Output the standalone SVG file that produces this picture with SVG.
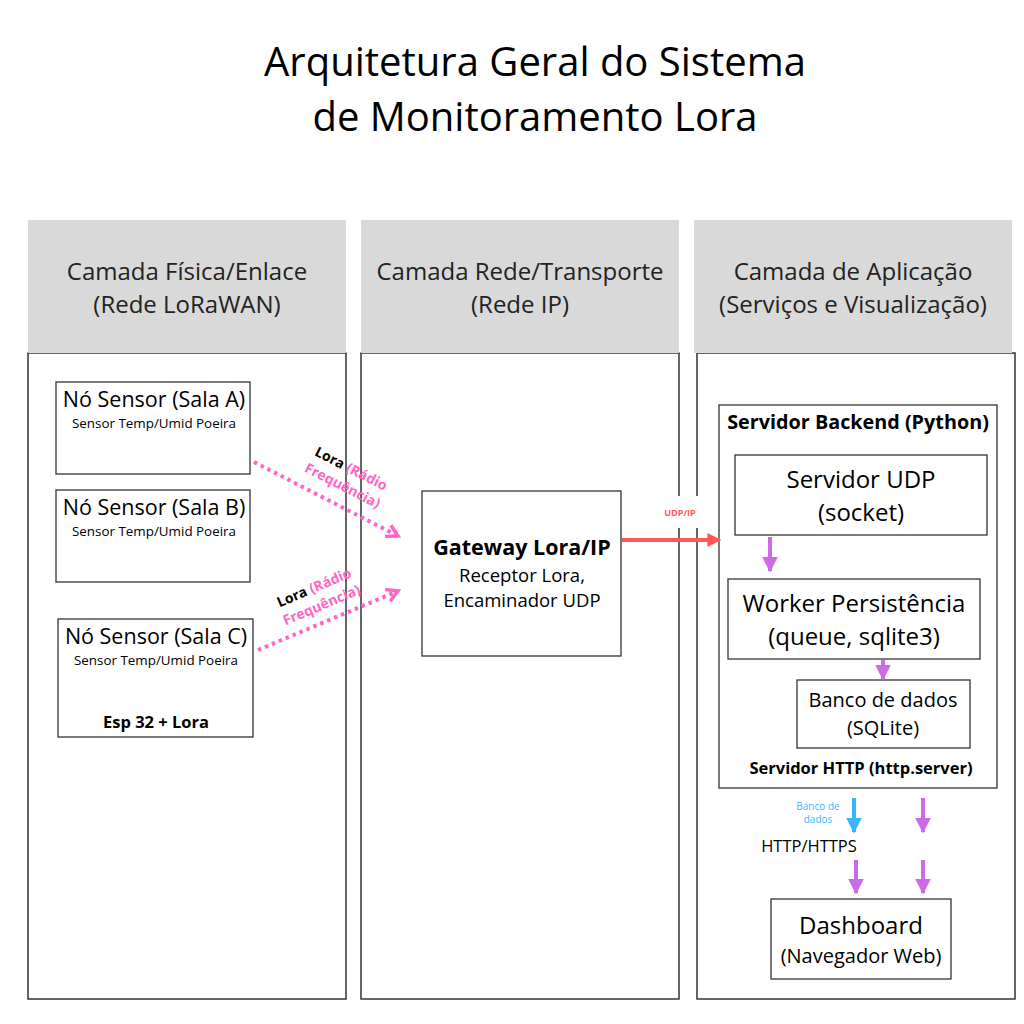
<svg xmlns="http://www.w3.org/2000/svg" width="1024" height="1024" viewBox="0 0 1024 1024">
<defs>
<style>
text{font-family:"Open Sans","Liberation Sans",sans-serif;}
.hdr{fill:#d9d9d9;}
.col{fill:#fff;stroke:#333;stroke-width:1.5;}
.box{fill:#fff;stroke:#333;stroke-width:1.3;}
.mid{text-anchor:middle;}
.b{font-weight:bold;}
.dk{fill:#222;}
.pink{fill:#ff66c4;}
.red{fill:#ff5757;}
.bl{fill:#38b6ff;}
.dot{fill:none;stroke:#ff66c4;stroke-width:4;stroke-dasharray:3.5,4;}
.purp{stroke:#cb6ce6;stroke-width:4;fill:none;}
.blue{stroke:#38b6ff;stroke-width:4;fill:none;}
</style>
<marker id="chev" viewBox="0 0 10 10" refX="8" refY="5" markerWidth="4" markerHeight="4" orient="auto" markerUnits="strokeWidth">
<path d="M1,1 L8,5 L1,9" fill="none" stroke="#ff66c4" stroke-width="2.2"/>
</marker>
<marker id="redh" viewBox="0 0 10 10" refX="9" refY="5" markerWidth="3.5" markerHeight="4" orient="auto" markerUnits="strokeWidth">
<path d="M0,0 L10,5 L0,10 Z" fill="#ff5757"/>
</marker>
<marker id="ph" viewBox="0 0 10 10" refX="9" refY="5" markerWidth="4" markerHeight="4" orient="auto" markerUnits="strokeWidth">
<path d="M0,0 L10,5 L0,10 Z" fill="#cb6ce6"/>
</marker>
<marker id="bh" viewBox="0 0 10 10" refX="9" refY="5" markerWidth="4" markerHeight="4" orient="auto" markerUnits="strokeWidth">
<path d="M0,0 L10,5 L0,10 Z" fill="#38b6ff"/>
</marker>
</defs>
<rect width="1024" height="1024" fill="#fff"/>
<g id="title">
<text class="mid" x="535" y="76" font-size="40">Arquitetura Geral do Sistema</text>
<text class="mid" x="535" y="131" font-size="40">de Monitoramento Lora</text>
</g>
<g id="col1">
<rect class="col" x="28" y="353" width="318" height="646"/>
<rect class="hdr" x="28" y="220" width="318" height="133"/>
<text class="mid dk" x="187" y="280" font-size="24">Camada Física/Enlace</text>
<text class="mid dk" x="187" y="313" font-size="24">(Rede LoRaWAN)</text>
</g>
<g id="col2">
<rect class="col" x="361" y="353" width="318" height="646"/>
<rect class="hdr" x="361" y="220" width="318" height="133"/>
<text class="mid dk" x="520" y="280" font-size="24">Camada Rede/Transporte</text>
<text class="mid dk" x="520" y="313" font-size="24">(Rede IP)</text>
</g>
<g id="col3">
<rect class="col" x="697" y="353" width="318" height="646"/>
<rect class="hdr" x="694" y="220" width="318" height="133"/>
<text class="mid dk" x="853" y="280" font-size="24">Camada de Aplicação</text>
<text class="mid dk" x="853" y="313" font-size="24">(Serviços e Visualização)</text>
</g>
<g id="sensorA">
<rect class="box" x="56" y="382" width="194" height="92"/>
<text class="mid" x="154" y="407" font-size="21.5">Nó Sensor (Sala A)</text>
<text class="mid" x="154" y="428" font-size="13.4">Sensor Temp/Umid Poeira</text>
</g>
<g id="sensorB">
<rect class="box" x="56" y="490" width="194" height="92"/>
<text class="mid" x="154" y="515" font-size="21.5">Nó Sensor (Sala B)</text>
<text class="mid" x="154" y="536" font-size="13.4">Sensor Temp/Umid Poeira</text>
</g>
<g id="sensorC">
<rect class="box" x="58" y="619" width="195" height="118"/>
<text class="mid" x="156" y="644" font-size="21.5">Nó Sensor (Sala C)</text>
<text class="mid" x="156" y="665" font-size="13.4">Sensor Temp/Umid Poeira</text>
<text class="mid b" x="156" y="728" font-size="16.5">Esp 32 + Lora</text>
</g>
<g id="gateway">
<rect class="box" x="422" y="491" width="199" height="165"/>
<text class="mid b" x="522" y="555" font-size="21.5">Gateway Lora/IP</text>
<text class="mid" x="522" y="582" font-size="18.5">Receptor Lora,</text>
<text class="mid" x="522" y="607" font-size="18.5">Encaminador UDP</text>
</g>
<g id="backend">
<rect class="box" x="719" y="405" width="278" height="383"/>
<text class="mid b" x="858" y="429" font-size="19.8">Servidor Backend (Python)</text>
<text class="mid b" x="861" y="774" font-size="16.5">Servidor HTTP (http.server)</text>
</g>
<g id="udp">
<rect class="box" x="735" y="455" width="252" height="80"/>
<text class="mid" x="861" y="488" font-size="24">Servidor UDP</text>
<text class="mid" x="861" y="521" font-size="24">(socket)</text>
</g>
<g id="worker">
<rect class="box" x="728" y="579" width="252" height="80"/>
<text class="mid" x="854" y="612" font-size="24">Worker Persistência</text>
<text class="mid" x="854" y="645" font-size="24">(queue, sqlite3)</text>
</g>
<g id="db">
<rect class="box" x="797" y="680" width="173" height="68"/>
<text class="mid" x="883" y="707" font-size="20">Banco de dados</text>
<text class="mid" x="883" y="735" font-size="20">(SQLite)</text>
</g>
<g id="dashboard">
<rect class="box" x="771" y="899" width="180" height="80"/>
<text class="mid" x="861" y="934" font-size="24">Dashboard</text>
<text class="mid" x="861" y="963" font-size="20">(Navegador Web)</text>
</g>
<g id="connectors">
<line class="dot" x1="254" y1="462" x2="398" y2="536" marker-end="url(#chev)"/>
<line class="dot" x1="258" y1="650" x2="398" y2="591" marker-end="url(#chev)"/>
<g transform="translate(349,473) rotate(27)">
<text class="mid b" x="0" y="0" font-size="14"><tspan>Lora </tspan><tspan class="pink">(Rádio</tspan></text>
<text class="mid b pink" x="0" y="19" font-size="14">Frequência)</text>
</g>
<g transform="translate(316,592) rotate(-23)">
<text class="mid b" x="0" y="0" font-size="14"><tspan>Lora </tspan><tspan class="pink">(Rádio</tspan></text>
<text class="mid b pink" x="0" y="19" font-size="14">Frequência)</text>
</g>
<line x1="622" y1="540" x2="720" y2="540" stroke="#ff5757" stroke-width="4" marker-end="url(#redh)"/>
<rect x="652" y="496" width="56" height="32" fill="#fff"/>
<text class="mid b red" x="680" y="516" font-size="9">UDP/IP</text>
<line class="purp" x1="770" y1="537" x2="770" y2="571" marker-end="url(#ph)"/>
<line class="purp" x1="883" y1="660" x2="883" y2="679" marker-end="url(#ph)"/>
<line class="blue" x1="854" y1="798" x2="854" y2="832" marker-end="url(#bh)"/>
<line class="purp" x1="923" y1="798" x2="923" y2="832" marker-end="url(#ph)"/>
<text class="mid bl" x="818" y="810" font-size="10">Banco de</text>
<text class="mid bl" x="818" y="823" font-size="10">dados</text>
<text class="mid" x="809" y="852" font-size="16.5">HTTP/HTTPS</text>
<line class="purp" x1="856" y1="860" x2="856" y2="893" marker-end="url(#ph)"/>
<line class="purp" x1="923" y1="860" x2="923" y2="893" marker-end="url(#ph)"/>
</g>
</svg>
